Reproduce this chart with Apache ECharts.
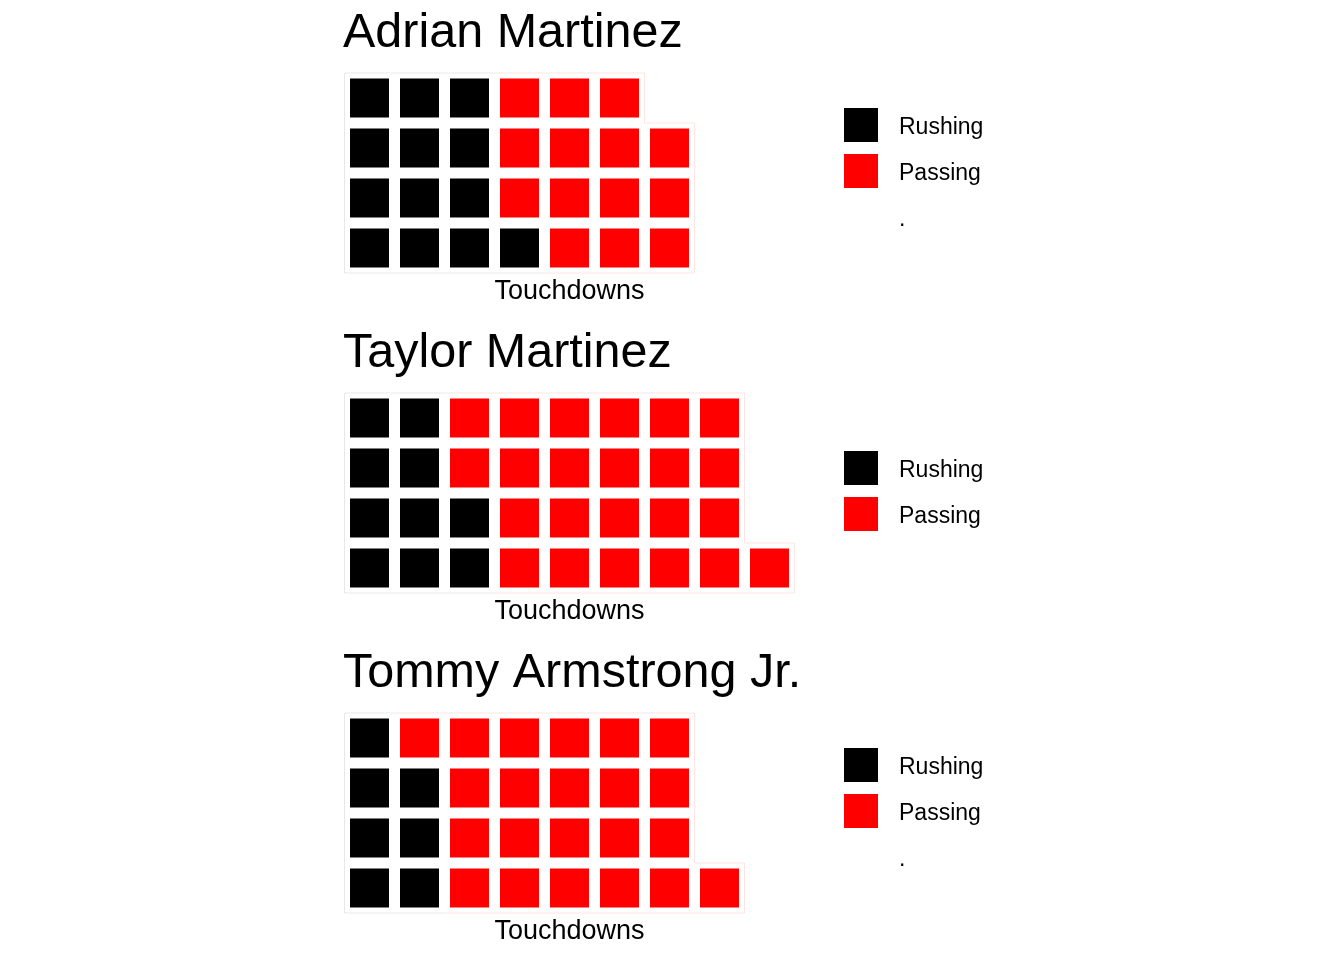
<!DOCTYPE html>
<html><head><meta charset="utf-8">
<script src="https://cdn.jsdelivr.net/npm/echarts@6/dist/echarts.min.js"></script>
<style>html,body{margin:0;padding:0;background:#fff}#c{width:1344px;height:960px}</style>
</head><body><div id="c"></div>
<script>
// ---- data ----
const players = ['Adrian Martinez', 'Taylor Martinez', 'Tommy Armstrong Jr.'];
const categories = ['Rushing', 'Passing'];
const rushingTD = [13, 10, 7];
const passingTD = [14, 23, 22];
const showEmptyKey = [true, false, true];
const axisTitle = 'Touchdowns';
const rowsPerColumn = 4;
const columnsShown = 9;

// ---- style ----
const FONT = "'Liberation Sans', Arial, Helvetica, sans-serif";
const catColor = { Rushing: '#000000', Passing: '#ff0000' };
const edgeColor = { Rushing: 'rgba(0,0,0,0.09)', Passing: 'rgba(255,0,0,0.10)' };

const grids = [], xAxes = [], yAxes = [], titles = [], legends = [], series = [];
const legendTops = [108, 451, 748];

players.forEach((player, k) => {
  const top = 73 + 320 * k;
  grids.push({ left: 344.5, top: top, width: 450, height: 200 });
  xAxes.push({
    gridIndex: k, type: 'value', min: 0, max: columnsShown,
    name: axisTitle, nameLocation: 'middle', nameGap: 5,
    nameTextStyle: { fontSize: 27, color: '#000', fontFamily: FONT, verticalAlign: 'top' },
    axisLine: { show: false }, axisTick: { show: false },
    axisLabel: { show: false }, splitLine: { show: false }
  });
  yAxes.push({
    gridIndex: k, type: 'value', min: 0, max: rowsPerColumn,
    axisLine: { show: false }, axisTick: { show: false },
    axisLabel: { show: false }, splitLine: { show: false }
  });
  titles.push({
    text: player, left: 343, top: 9 + 320 * k, padding: 0,
    textStyle: { fontSize: 48.5, fontWeight: 'normal', color: '#000', fontFamily: FONT }
  });
  legends.push({
    orient: 'vertical', left: 844, top: legendTops[k], padding: 0,
    itemWidth: 34, itemHeight: 34, itemGap: 12, icon: 'rect',
    selectedMode: false,
    data: showEmptyKey[k] ? ['Rushing', 'Passing', '.'] : ['Rushing', 'Passing'],
    formatter: '{t|{name}}',
    textStyle: {
      fontSize: 23, color: '#000', fontFamily: FONT, padding: [0, 0, 0, 16],
      rich: { t: { fontSize: 23, color: '#000', fontFamily: FONT, padding: [6, 0, 0, 0] } }
    }
  });

  // build waffle cells: fill column by column, bottom to top
  const counts = [rushingTD[k], passingTD[k]];
  const occupied = new Set();
  const cellsByCat = {};
  let idx = 0;
  categories.forEach((cat, ci) => {
    cellsByCat[cat] = [];
    for (let n = 0; n < counts[ci]; n++) {
      const col = Math.floor(idx / rowsPerColumn);
      const row = idx % rowsPerColumn;
      cellsByCat[cat].push([col, row]);
      occupied.add(col + ',' + row);
      idx++;
    }
  });

  categories.forEach(cat => {
    series.push({
      type: 'custom', name: cat, xAxisIndex: k, yAxisIndex: k,
      itemStyle: { color: catColor[cat] },
      data: cellsByCat[cat],
      renderItem: function (params, api) {
        const col = api.value(0), row = api.value(1);
        const tl = api.coord([col, row + 1]);
        const sz = api.size([1, 1]);
        const w = sz[0], h = sz[1];
        const inset = 5.5;
        const children = [{
          type: 'rect',
          shape: { x: tl[0] + inset, y: tl[1] + inset, width: w - 2 * inset, height: h - 2 * inset },
          style: { fill: catColor[cat] }
        }];
        const ls = { stroke: edgeColor[cat], lineWidth: 1, fill: null };
        const x0 = tl[0], y0 = tl[1], x1 = tl[0] + w, y1 = tl[1] + h;
        if (!occupied.has(col + ',' + (row + 1))) children.push({ type: 'line', shape: { x1: x0, y1: y0, x2: x1, y2: y0 }, style: ls });
        if (!occupied.has(col + ',' + (row - 1))) children.push({ type: 'line', shape: { x1: x0, y1: y1, x2: x1, y2: y1 }, style: ls });
        if (!occupied.has((col - 1) + ',' + row)) children.push({ type: 'line', shape: { x1: x0, y1: y0, x2: x0, y2: y1 }, style: ls });
        if (!occupied.has((col + 1) + ',' + row)) children.push({ type: 'line', shape: { x1: x1, y1: y0, x2: x1, y2: y1 }, style: ls });
        return { type: 'group', children: children };
      }
    });
  });
  if (showEmptyKey[k]) {
    series.push({
      type: 'custom', name: '.', xAxisIndex: k, yAxisIndex: k,
      itemStyle: { color: '#ffffff' }, data: [],
      renderItem: function () { return null; }
    });
  }
});

const chart = echarts.init(document.getElementById('c'), null, { renderer: 'canvas' });
chart.setOption({
  animation: false,
  backgroundColor: '#ffffff',
  title: titles,
  legend: legends,
  grid: grids,
  xAxis: xAxes,
  yAxis: yAxes,
  series: series
});
</script></body></html>
